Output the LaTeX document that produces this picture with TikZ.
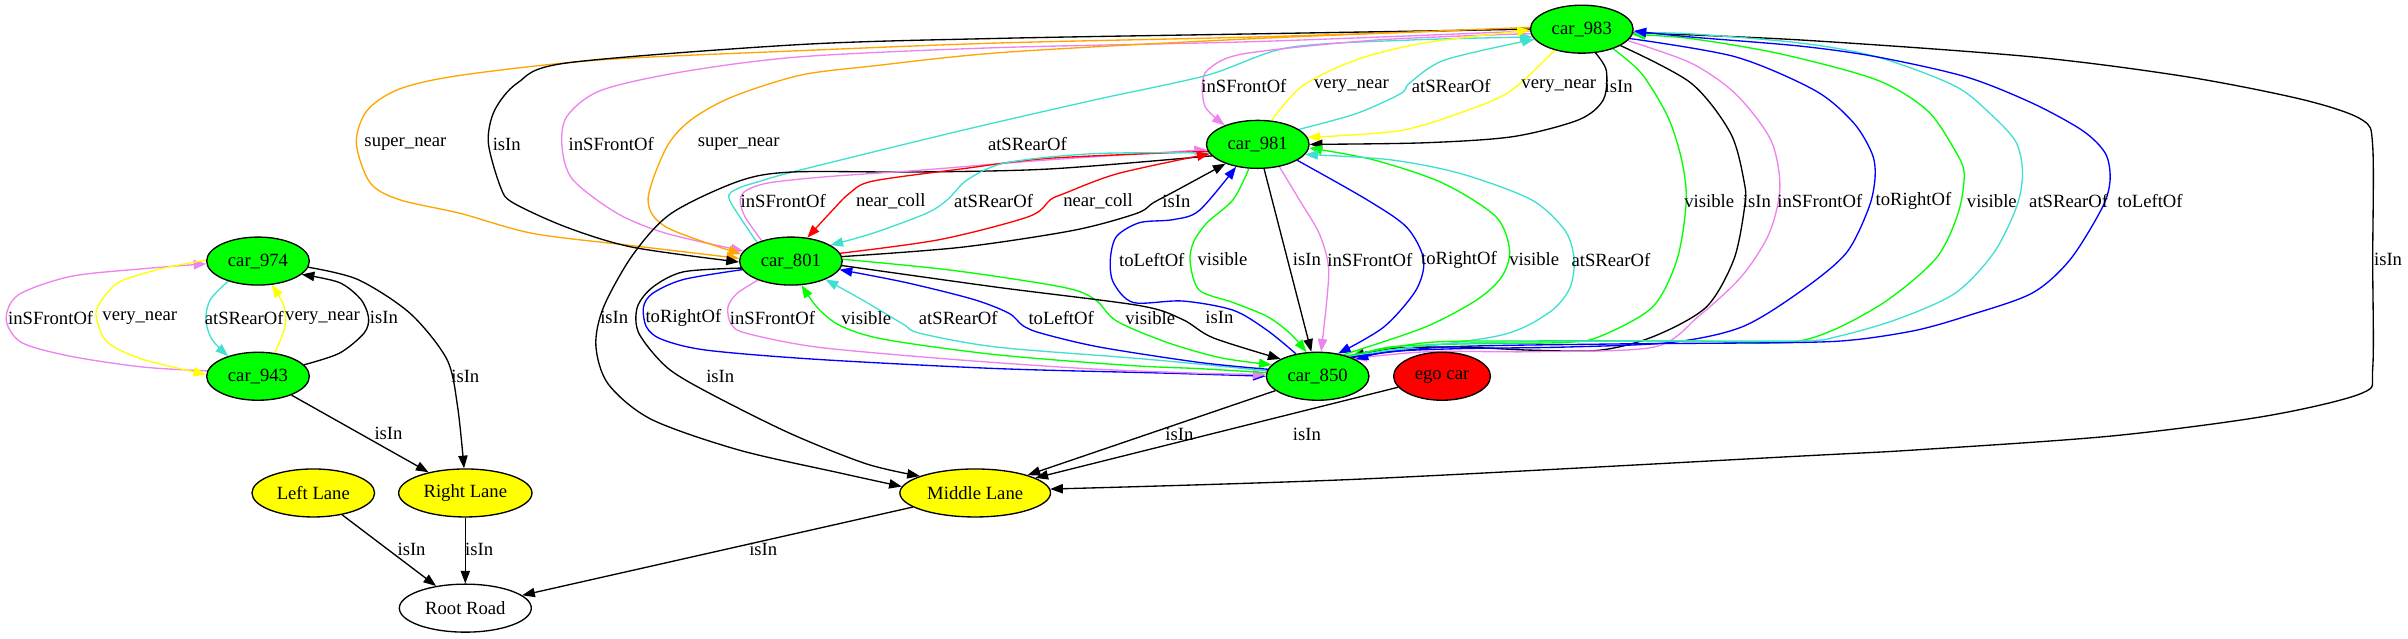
\documentclass[tikz,border=0pt]{standalone}
\usepackage{fontspec}
\setmainfont{Liberation Serif}
\usetikzlibrary{arrows.meta,shapes.geometric}
\pgfdeclarelayer{background}
\pgfsetlayers{background,main}
\definecolor{gvgreen}{HTML}{00FF00}
\definecolor{gvyellow}{HTML}{FFFF00}
\definecolor{gvviolet}{HTML}{EE82EE}
\definecolor{gvturq}{HTML}{40E0D0}
\definecolor{gvorange}{HTML}{FFA500}
\definecolor{gvblue}{HTML}{0000FF}
\definecolor{gvred}{HTML}{FF0000}
\tikzset{
  gvnode/.style={ellipse, draw=black, line width=1pt, minimum height=36pt, inner sep=0pt, font=\fontsize{14}{16}\selectfont},
  carnode/.style={gvnode, fill=gvgreen, minimum width=77pt},
  lanenode/.style={gvnode, fill=gvyellow},
  gvedge/.style={line width=1pt, -{Triangle[length=9.5pt,width=7pt]}},
  lbl/.style={font=\fontsize{14}{16}\selectfont, inner sep=0pt}
}
\begin{document}
\begin{tikzpicture}[x=1.152pt,y=-1.152pt]
\useasboundingbox (0,0) rectangle (1568,416);
% nodes
\node[carnode] (c983) at (1030,19) {car\_983};
\node[carnode] (c981) at (819,94) {car\_981};
\node[carnode] (c801) at (515,170) {car\_801};
\node[carnode] (c974) at (168,170) {car\_974};
\node[carnode] (c943) at (168,245) {car\_943};
\node[carnode] (c850) at (858,245) {car\_850};
\node[gvnode, fill=gvred, minimum width=72.6pt] (ego) at (939,245) {ego car};
\node[lanenode, minimum width=113pt] (ML) at (635,321) {Middle Lane};
\node[lanenode, minimum width=92pt] (LL) at (204,321) {Left Lane};
\node[lanenode, minimum width=100pt] (RL) at (303,321) {Right Lane};
\node[gvnode, fill=white, minimum width=99pt] (RR) at (303,396) {Root Road};

\begin{pgfonlayer}{background}
% left cluster
\draw[gvedge, gvviolet] plot[smooth] coordinates {(c943.174) (93,239) (46,232) (14,223) (4,208) (12,192) (46,180) (93,175) (c974.183)};
\draw[gvedge, gvyellow] plot[smooth] coordinates {(c974.179) (105,175) (77,184) (64,199) (63,208) (70,223) (93,234) (c943.178)};
\draw[gvedge, gvturq] plot[smooth] coordinates {(c974.214) (137,195) (134,208) (138,221) (c943.146)};
\draw[gvedge, gvyellow] plot[smooth] coordinates {(c943.54) (185,215) (186,206) (184,197) (c974.300)};
\draw[gvedge, black] plot[smooth] coordinates {(c943.14) (221,230) (237,217) (240,207) (235,195) (221,184) (c974.343)};
\draw[gvedge, black] plot[smooth] coordinates {(c974.353) (233,182) (267,204) (291,234) (298,265) (RL.93)};
\draw[gvedge] (c943) -- (RL);
\draw[gvedge] (LL) -- (RR);
\draw[gvedge] (RL) -- (RR);
\draw[gvedge] (ML) -- (RR);
% car_983 -> car_801
\draw[gvedge, gvorange] plot[smooth] coordinates {(c983.179) (820,24) (650,28) (521,33) (391,39) (300,49) (260,58) (239,72) (232,93) (241,119) (260,130) (300,139) (347,152) (412,160) (c801.177)};
\draw[gvedge, black] plot[smooth] coordinates {(c983.180) (820,22) (650,25) (521,29) (369,41) (337,54) (322,72) (318,93) (326,122) (334,132) (369,148) (412,161) (c801.181)};
\draw[gvedge, gvviolet] plot[smooth] coordinates {(c983.182) (820,27) (650,31) (521,37) (443,47) (391,59) (369,76) (366,96) (373,117) (402,139) (434,152) (c801.168)};
\draw[gvedge, gvorange] plot[smooth] coordinates {(c983.178) (820,25) (655,34) (568,43) (521,49) (477,63) (450,78) (434,96) (422,130) (434,148) (c801.172)};
\draw[gvedge, gvturq] plot[smooth] coordinates {(c801.151) (475,130) (480,123) (495,118) (520,111) (626,85) (713,65) (786,49) (839,31) (920,26) (c983.189)};
% to Middle Lane
\draw[gvedge, black] plot[smooth] coordinates {(c981.194) (684,110) (597,112) (516,112) (481,118) (437,139) (412,166) (393,200) (388,225) (396,250) (424,273) (481,293) (547,308) (ML.175)};
\draw[gvedge, black] plot[smooth] coordinates {(c801.188) (445,177) (425,187) (415,200) (416,217) (434,239) (460,255) (514,282) (564,302) (ML.163)};
\draw[gvedge] (c850) -- (ML);
\draw[gvedge] (ego) -- (ML);
\draw[gvedge, black] plot[smooth] coordinates {(c983.356) (1172,26) (1323,37) (1424,50) (1500,65) (1538,78) (1545,95) (1545,170) (1545,240) (1538,256) (1475,271) (1374,284) (1247,293) (1172,297) (885,312) (ML.3)};
% car_983 <-> car_981
\draw[gvedge, gvviolet] plot[smooth] coordinates {(c983.185) (897,26) (810,35) (787,45) (783,55) (785,70) (c981.150)};
\draw[gvedge, gvyellow] plot[smooth] coordinates {(c981.60) (848,56) (883,39) (927,28) (c983.181)};
\draw[gvedge, gvturq] plot[smooth] coordinates {(c981.20) (883,74) (912,61) (918,54) (941,39) (c983.192)};
\draw[gvedge, gvyellow] plot[smooth] coordinates {(c983.218) (984,59) (955,72) (912,85) (c981.8)};
\draw[gvedge, black] plot[smooth] coordinates {(c983.300) (1046,46) (1044,65) (1028,78) (985,89) (927,93) (c981.0)};
% car_801 <-> car_981
\draw[gvedge, gvviolet] plot[smooth] coordinates {(c801.145) (485,141) (482,130) (486,124) (501,119) (539,115) (597,111) (684,104) (c981.186)};
\draw[gvedge, gvred] plot[smooth] coordinates {(c981.188) (684,103) (626,110) (568,118) (553,126) (542,137) (c801.55)};
\draw[gvedge, gvturq] plot[smooth] coordinates {(c981.190) (713,100) (655,106) (630,117) (617,130) (603,139) (568,152) (c801.22)};
\draw[gvedge, gvred] plot[smooth] coordinates {(c801.9) (612,156) (670,141) (684,130) (693,126) (728,113) (c981.191)};
\draw[gvedge, black] plot[smooth] coordinates {(c801.5) (626,161) (699,150) (740,139) (751,132) (766,124) (c981.211)};
% car_801 <-> car_850
\draw[gvedge, gvblue] plot[smooth] coordinates {(c801.190) (445,182) (425,191) (419,200) (421,213) (431,221) (460,228) (532,234) (649,240) (760,243) (c850.180)};
\draw[gvedge, gvviolet] plot[smooth] coordinates {(c801.210) (480,191) (474,200) (476,211) (486,217) (532,226) (620,234) (707,240) (780,243) (c850.178)};
\draw[gvedge, gvgreen] plot[smooth] coordinates {(c850.176) (780,240) (736,238) (649,231) (576,221) (547,212) (532,200) (c801.294)};
\draw[gvedge, gvturq] plot[smooth] coordinates {(c850.174) (780,237) (736,233) (649,226) (599,217) (588,211) (561,195) (c801.332)};
\draw[gvedge, gvblue] plot[smooth] coordinates {(c850.172) (781,236) (716,226) (678,217) (666,212) (657,204) (634,195) (590,184) (c801.350)};
\draw[gvedge, gvgreen] plot[smooth] coordinates {(c801.2) (620,176) (692,187) (713,195) (727,209) (760,223) (795,233) (c850.166)};
\draw[gvedge, black] plot[smooth] coordinates {(c801.355) (649,187) (742,199) (770,208) (790,220) (c850.155)};
% car_981 <-> car_850
\draw[gvedge, gvblue] plot[smooth] coordinates {(c850.134) (825,215) (803,202) (770,196) (738,197) (725,184) (723,169) (727,154) (742,145) (764,143) (781,137) (c981.226)};
\draw[gvedge, gvgreen] plot[smooth] coordinates {(c981.250) (803,130) (786,145) (777,158) (775,171) (781,189) (803,197) (825,206) (840,217) (c850.115)};
\draw[gvedge] (c981) -- (c850);
\draw[gvedge, gvviolet] plot[smooth] coordinates {(c981.314) (846,130) (859,152) (865,173) (864,195) (c850.82)};
\draw[gvedge, gvblue] plot[smooth] coordinates {(c981.338) (890,130) (916,148) (927,169) (922,189) (901,213) (c850.48)};
\draw[gvedge, gvgreen] plot[smooth] coordinates {(c850.40) (928,213) (962,195) (978,180) (983,163) (974,141) (939,119) (894,104) (c981.356)};
\draw[gvedge, gvturq] plot[smooth] coordinates {(c850.36) (974,219) (1008,204) (1022,188) (1025,169) (1019,150) (997,130) (951,113) (905,104) (c981.348)};
% car_983 <-> car_850
\draw[gvedge, gvgreen] plot[smooth] coordinates {(c983.328) (1069,48) (1086,76) (1095,104) (1098,131) (1092,169) (1076,200) (1042,219) (1019,223) (951,224) (905,226) (c850.30)};
\draw[gvedge, black] plot[smooth] coordinates {(c983.337) (1101,54) (1127,87) (1136,120) (1136,135) (1129,169) (1111,200) (1077,219) (1042,228) (997,228) (951,226) (905,227) (c850.28)};
\draw[gvedge, gvviolet] plot[smooth] coordinates {(c983.346) (1101,41) (1130,61) (1153,91) (1159,122) (1152,152) (1134,180) (1106,206) (1077,226) (1000,229) (930,229) (c850.26)};
\draw[gvedge, gvblue] plot[smooth] coordinates {(c983.349) (1130,37) (1182,59) (1207,80) (1219,100) (1221,115) (1217,135) (1202,165) (1172,190) (1134,213) (1088,223) (1019,226) (951,227) (905,229) (c850.24)};
\draw[gvedge, gvgreen] plot[smooth] coordinates {(c850.34) (930,223) (1000,222) (1100,222) (1172,222) (1222,200) (1260,169) (1275,139) (1279,113) (1273,98) (1255,72) (1222,52) (1159,35) (1100,25) (c983.354)};
\draw[gvedge, gvturq] plot[smooth] coordinates {(c850.32) (940,224) (1050,222) (1172,222) (1197,219) (1235,208) (1273,191) (1298,165) (1313,135) (1317,113) (1313,93) (1298,76) (1273,56) (1222,37) (1172,28) (1100,22) (c983.356)};
\draw[gvedge, gvblue] plot[smooth] coordinates {(c850.30) (940,226) (1050,224) (1172,223) (1210,221) (1248,215) (1280,206) (1323,191) (1348,169) (1369,135) (1374,117) (1371,100) (1356,85) (1323,67) (1280,50) (1222,37) (1172,30) (1100,24) (c983.358)};
\end{pgfonlayer}

% labels
\node[lbl] (l01) at (33,207) {inSFrontOf};
\node[lbl] (l02) at (91,207) {very\_near};
\node[lbl] (l03) at (159,207) {atSRearOf};
\node[lbl] (l04) at (210,207) {very\_near};
\node[lbl] (l05) at (250,207) {isIn};
\node[lbl] (l06) at (303,245) {isIn};
\node[lbl] (l07) at (253,282) {isIn};
\node[lbl] (l08) at (268,358) {isIn};
\node[lbl] (l09) at (312,358) {isIn};
\node[lbl] (l10) at (497,358) {isIn};
\node[lbl] (l11) at (264,94) {super\_near};
\node[lbl] (l12) at (330,94) {isIn};
\node[lbl] (l13) at (398,94) {inSFrontOf};
\node[lbl] (l14) at (481,94) {super\_near};
\node[lbl] (l15) at (669,94) {atSRearOf};
\node[lbl] (l16) at (810,56) {inSFrontOf};
\node[lbl] (l17) at (880,56) {very\_near};
\node[lbl] (l18) at (945,56) {atSRearOf};
\node[lbl] (l19) at (1015,56) {very\_near};
\node[lbl] (l20) at (1054,56) {isIn};
\node[lbl] (l21) at (510,131) {inSFrontOf};
\node[lbl] (l22) at (580,131) {near\_coll};
\node[lbl] (l23) at (647,131) {atSRearOf};
\node[lbl] (l24) at (715,131) {near\_coll};
\node[lbl] (l25) at (766,131) {isIn};
\node[lbl] (l26) at (1113,131) {visible};
\node[lbl] (l27) at (1144,131) {isIn};
\node[lbl] (l28) at (1185,131) {inSFrontOf};
\node[lbl] (l29) at (1246,131) {toRightOf};
\node[lbl] (l30) at (1297,131) {visible};
\node[lbl] (l31) at (1347,131) {atSRearOf};
\node[lbl] (l32) at (1400,131) {toLeftOf};
\node[lbl] (l33) at (750,169) {toLeftOf};
\node[lbl] (l34) at (796,169) {visible};
\node[lbl] (l35) at (851,169) {isIn};
\node[lbl] (l36) at (892,169) {inSFrontOf};
\node[lbl] (l37) at (950,169) {toRightOf};
\node[lbl] (l38) at (999,169) {visible};
\node[lbl] (l39) at (1049,169) {atSRearOf};
\node[lbl] (l40) at (1555,169) {isIn};
\node[lbl] (l41) at (400,207) {isIn};
\node[lbl] (l42) at (445,207) {toRightOf};
\node[lbl] (l43) at (503,207) {inSFrontOf};
\node[lbl] (l44) at (564,207) {visible};
\node[lbl] (l45) at (624,207) {atSRearOf};
\node[lbl] (l46) at (691,207) {toLeftOf};
\node[lbl] (l47) at (749,207) {visible};
\node[lbl] (l48) at (794,207) {isIn};
\node[lbl] (l49) at (469,245) {isIn};
\node[lbl] (l50) at (768,283) {isIn};
\node[lbl] (l51) at (851,283) {isIn};
\end{tikzpicture}
\end{document}
